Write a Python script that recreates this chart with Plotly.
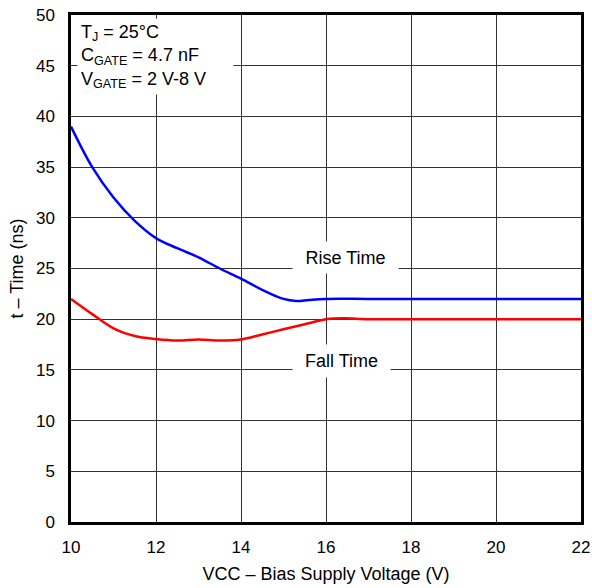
import plotly.graph_objects as go

rise_x = [10, 10.5, 11, 11.5, 12, 12.5, 13, 13.5, 14, 14.5, 15, 15.3, 15.6, 16, 17, 18, 20, 22]
rise_y = [39, 35.0, 32.0, 29.7, 28.0, 27.0, 26.1, 25.0, 24.0, 22.9, 22.0, 21.8, 21.9, 22, 22, 22, 22, 22]

fall_x = [10, 10.5, 11, 11.5, 12, 12.5, 13, 13.5, 14, 14.5, 15, 15.5, 16, 16.4, 17, 18, 20, 22]
fall_y = [22, 20.5, 19.1, 18.35, 18.05, 17.9, 18.0, 17.9, 18.0, 18.5, 19.0, 19.5, 20.0, 20.1, 20.0, 20, 20, 20]

x_ticks = [10, 12, 14, 16, 18, 20, 22]
y_ticks = [0, 5, 10, 15, 20, 25, 30, 35, 40, 45, 50]

FONT = "Liberation Sans, Arial, sans-serif"

fig = go.Figure()
fig.add_trace(go.Scatter(x=rise_x, y=rise_y, mode="lines",
                         line=dict(color="#0000FF", width=2.5, shape="spline", smoothing=1.0),
                         showlegend=False))
fig.add_trace(go.Scatter(x=fall_x, y=fall_y, mode="lines",
                         line=dict(color="#FF0000", width=2.5, shape="spline", smoothing=1.0),
                         showlegend=False))

fig.add_annotation(x=16.46, y=26.08, xref="x", yref="y", text="Rise Time",
                   showarrow=False, bgcolor="white", borderpad=0, width=105, height=31,
                   font=dict(family=FONT, size=18, color="black"))
fig.add_annotation(x=16.36, y=15.88, xref="x", yref="y", text="Fall Time",
                   showarrow=False, bgcolor="white", borderpad=0, width=97, height=32,
                   font=dict(family=FONT, size=18, color="black"))
fig.add_annotation(x=0.0118, y=0.994, xref="paper", yref="paper", xanchor="left", yanchor="top",
                   text="T<sub>J</sub> = 25°C<br>C<sub>GATE</sub> = 4.7 nF<br>V<sub>GATE</sub> = 2 V-8 V",
                   align="left", valign="middle", showarrow=False, bgcolor="white", borderpad=3,
                   width=149, height=69,
                   font=dict(family=FONT, size=18, color="black"))

fig.update_xaxes(range=[10, 22], tickvals=x_ticks, ticks="", showgrid=True,
                 gridcolor="#333333", gridwidth=1, showline=True, linecolor="black",
                 linewidth=2.5, mirror=True, zeroline=False, automargin=False,
                 ticklabelstandoff=8,
                 title=dict(text="VCC – Bias Supply Voltage (V)", font=dict(family=FONT, size=18, color="black"), standoff=12),
                 tickfont=dict(family=FONT, size=17, color="black"))
fig.update_yaxes(range=[0, 50], tickvals=y_ticks, ticks="", showgrid=True,
                 gridcolor="#333333", gridwidth=1, showline=True, linecolor="black",
                 linewidth=2.5, mirror=True, zeroline=False, automargin=False,
                 ticklabelstandoff=10,
                 title=dict(text="t – Time (ns)", font=dict(family=FONT, size=18, color="black"), standoff=8),
                 tickfont=dict(family=FONT, size=17, color="black"))

fig.update_layout(width=592, height=588, plot_bgcolor="white", paper_bgcolor="white",
                  margin=dict(l=71, r=11, t=15, b=66), font=dict(family=FONT))

fig.write_html("out.html", config={"displayModeBar": False},
               post_script="document.body.style.margin='0';")
